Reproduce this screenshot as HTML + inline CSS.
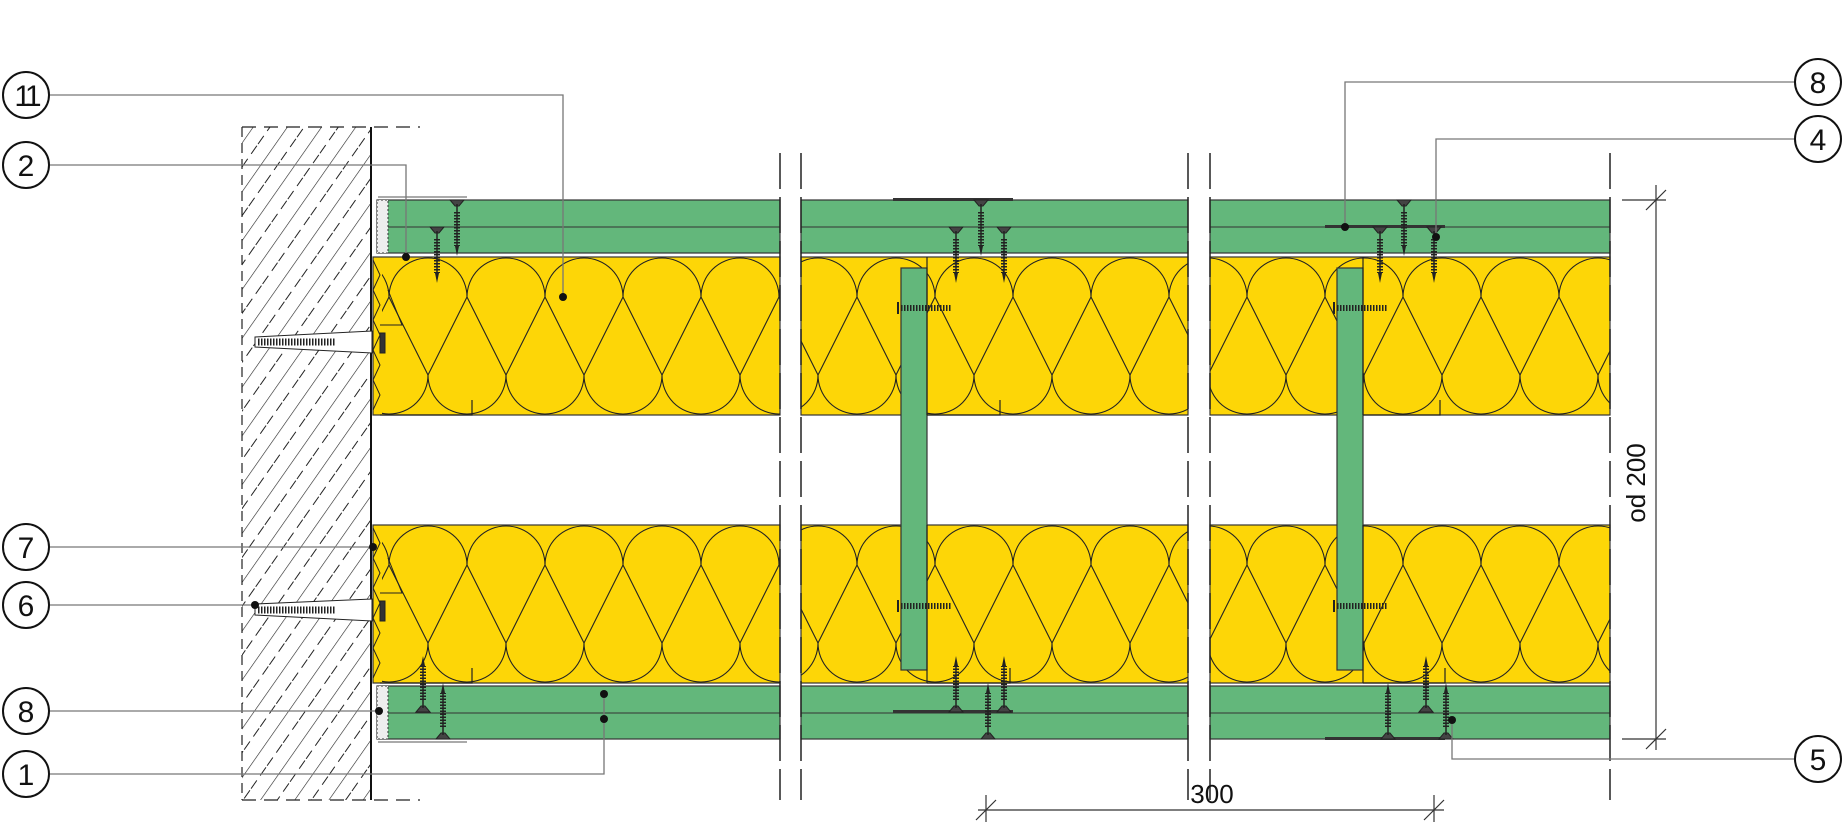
<!DOCTYPE html>
<html><head><meta charset="utf-8"><style>
html,body{margin:0;padding:0;background:#fff;}
svg{display:block;}
text{font-family:"Liberation Sans",sans-serif;}
</style></head><body>
<svg width="1845" height="828" viewBox="0 0 1845 828" xmlns="http://www.w3.org/2000/svg">
<defs>
<pattern id="hatch" patternUnits="userSpaceOnUse" width="28" height="28" patternTransform="rotate(35)">
<line x1="0" y1="0" x2="0" y2="28" stroke="#222" stroke-width="1.2"/>
<line x1="14" y1="0" x2="14" y2="28" stroke="#222" stroke-width="1" stroke-dasharray="10 6"/>
</pattern>
<pattern id="ins1" patternUnits="userSpaceOnUse" x="389" y="257" width="78" height="158">
<g fill="none" stroke="#222" stroke-width="1.1">
<path d="M0,40 A39,39 0 0 1 78,40"/>
<path d="M-39,118 A39,39 0 0 0 39,118"/>
<path d="M39,118 A39,39 0 0 0 117,118"/>
<path d="M0,40 L39,118 M0,40 L-39,118 M78,40 L39,118 M78,40 L117,118"/>
</g></pattern>
<pattern id="ins2" patternUnits="userSpaceOnUse" x="389" y="525" width="78" height="158">
<g fill="none" stroke="#222" stroke-width="1.1">
<path d="M0,40 A39,39 0 0 1 78,40"/>
<path d="M-39,118 A39,39 0 0 0 39,118"/>
<path d="M39,118 A39,39 0 0 0 117,118"/>
<path d="M0,40 L39,118 M0,40 L-39,118 M78,40 L39,118 M78,40 L117,118"/>
</g></pattern>
<g id="screwD">
<path d="M-7,0 L7,0 L2,6 L-2,6 Z" fill="#444" stroke="#222" stroke-width="1"/>
<line x1="0" y1="4" x2="0" y2="48" stroke="#222" stroke-width="1.5"/>
<line x1="0" y1="12" x2="0" y2="46" stroke="#222" stroke-width="6" stroke-dasharray="1.5 1.5"/>
<path d="M-2,46 L0,56 L2,46 Z" fill="#222"/>
</g>
</defs>

<!-- wall -->
<rect x="242" y="127" width="129" height="673" fill="url(#hatch)"/>
<line x1="371" y1="127" x2="371" y2="800" stroke="#111" stroke-width="2"/>
<line x1="242" y1="127" x2="242" y2="800" stroke="#222" stroke-width="1.2" stroke-dasharray="10 6"/>
<line x1="242" y1="127" x2="420" y2="127" stroke="#222" stroke-width="1.2" stroke-dasharray="14 8"/>
<line x1="242" y1="800" x2="420" y2="800" stroke="#222" stroke-width="1.2" stroke-dasharray="14 8"/>

<!-- panels -->
<g stroke="#333" stroke-width="1.2">
<rect x="377" y="200" width="403" height="53" fill="#63b77b"/>
<rect x="801" y="200" width="387" height="53" fill="#63b77b"/>
<rect x="1210" y="200" width="400" height="53" fill="#63b77b"/>
<rect x="377" y="686" width="403" height="53" fill="#63b77b"/>
<rect x="801" y="686" width="387" height="53" fill="#63b77b"/>
<rect x="1210" y="686" width="400" height="53" fill="#63b77b"/>
<rect x="373" y="257" width="407" height="158" fill="#fdd607"/>
<rect x="801" y="257" width="387" height="158" fill="#fdd607"/>
<rect x="1210" y="257" width="400" height="158" fill="#fdd607"/>
<rect x="373" y="525" width="407" height="158" fill="#fdd607"/>
<rect x="801" y="525" width="387" height="158" fill="#fdd607"/>
<rect x="1210" y="525" width="400" height="158" fill="#fdd607"/>
</g>
<g>
<rect x="382" y="257" width="398" height="158" fill="url(#ins1)"/>
<rect x="801" y="257" width="387" height="158" fill="url(#ins1)"/>
<rect x="1210" y="257" width="400" height="158" fill="url(#ins1)"/>
<rect x="382" y="525" width="398" height="158" fill="url(#ins2)"/>
<rect x="801" y="525" width="387" height="158" fill="url(#ins2)"/>
<rect x="1210" y="525" width="400" height="158" fill="url(#ins2)"/>
</g>
<g stroke="#333" stroke-width="1">
<line x1="377" y1="227" x2="780" y2="227"/><line x1="801" y1="227" x2="1188" y2="227"/><line x1="1210" y1="227" x2="1610" y2="227"/>
<line x1="377" y1="713" x2="780" y2="713"/><line x1="801" y1="713" x2="1188" y2="713"/><line x1="1210" y1="713" x2="1610" y2="713"/>
</g>
<rect x="377" y="200" width="11" height="53" fill="#eee" stroke="#333" stroke-width="1" stroke-dasharray="2 2"/>
<rect x="377" y="686" width="11" height="53" fill="#eee" stroke="#333" stroke-width="1" stroke-dasharray="2 2"/>
<path d="M378,197 H467 M378,742 H467" stroke="#555" stroke-width="1"/>
<path d="M373,260 L380,275 L373,290 L380,305 L373,320 L380,335 L373,350 L380,365 L373,380 L380,395 L373,410" fill="none" stroke="#222" stroke-width="1"/>
<path d="M373,528 L380,543 L373,558 L380,573 L373,588 L380,603 L373,618 L380,633 L373,648 L380,663 L373,678" fill="none" stroke="#222" stroke-width="1"/>
<path d="M380,325 H402 L388,290 M380,593 H402 L388,558" fill="none" stroke="#222" stroke-width="1"/>
<!-- anchors -->
<g stroke="#222" stroke-width="1" fill="#fff">
<path d="M255,337 L372,331 L372,353 L255,347 Z"/>
<path d="M258,342 H335" stroke-width="7" stroke-dasharray="1.5 1.5"/>
<rect x="380" y="333" width="5" height="20" fill="#333"/>
<path d="M255,604 L372,599 L372,621 L255,615 Z"/>
<path d="M258,610 H335" stroke-width="7" stroke-dasharray="1.5 1.5"/>
<rect x="380" y="601" width="5" height="20" fill="#333"/>
</g>
<!-- studs -->
<rect x="901" y="268" width="26" height="402" fill="#63b77b" stroke="#333" stroke-width="1.2"/>
<rect x="1337" y="268" width="26" height="402" fill="#63b77b" stroke="#333" stroke-width="1.2"/>
<g stroke="#222" stroke-width="1.2" fill="none">
<path d="M927,257 V415 M927,525 V683 M1363,257 V415 M1363,525 V683"/>
<path d="M927,415 H1000 V400 M1363,415 H1440 V400 M927,683 H1010 V668 M1363,683 H1445 V668 M380,415 H472 V400 M380,683 H472 V668"/>
</g>
<g stroke="#222" fill="none">
<path d="M901,308 H952 M901,606 H952 M1337,308 H1387 M1337,606 H1387" stroke-width="6" stroke-dasharray="1.5 1.5"/>
<path d="M898,302 V314 M898,600 V612 M1334,302 V314 M1334,600 V612" stroke-width="2"/>
</g>
<g fill="#333">
<rect x="893" y="198" width="120" height="3"/>
<rect x="1325" y="225" width="120" height="3"/>
<rect x="893" y="710" width="120" height="3"/>
<rect x="1325" y="737" width="120" height="3"/>
</g>
<use href="#screwD" x="457" y="200"/>
<use href="#screwD" x="437" y="227"/>
<use href="#screwD" x="981" y="200"/>
<use href="#screwD" x="956" y="227"/>
<use href="#screwD" x="1004" y="227"/>
<use href="#screwD" x="1404" y="200"/>
<use href="#screwD" x="1380" y="227"/>
<use href="#screwD" x="1434" y="227"/>
<g transform="translate(0,1425) scale(1,-1)">
<use href="#screwD" x="443" y="686"/>
<use href="#screwD" x="423" y="713"/>
<use href="#screwD" x="988" y="686"/>
<use href="#screwD" x="956" y="713"/>
<use href="#screwD" x="1004" y="713"/>
<use href="#screwD" x="1388" y="686"/>
<use href="#screwD" x="1426" y="713"/>
<use href="#screwD" x="1446" y="686"/>
</g>
<!-- break gaps -->
<rect x="781" y="150" width="19" height="660" fill="#fff"/>
<rect x="1189" y="150" width="20" height="660" fill="#fff"/>
<rect x="1611" y="150" width="10" height="660" fill="#fff"/>
<g stroke="#222" stroke-width="1.5" stroke-dasharray="36 8">
<line x1="780" y1="153" x2="780" y2="800"/><line x1="801" y1="153" x2="801" y2="800"/>
<line x1="1188" y1="153" x2="1188" y2="800"/><line x1="1210" y1="153" x2="1210" y2="800"/>
<line x1="1610" y1="153" x2="1610" y2="800"/>
</g>
<!-- leaders -->
<g stroke="#777" stroke-width="1.3" fill="none">
<path d="M49,95 H563 V297"/>
<path d="M49,165 H406 V257"/>
<path d="M49,547 H373"/>
<path d="M49,605 H255"/>
<path d="M49,711 H379"/>
<path d="M49,774 H604 V694"/>
<path d="M1795,82 H1345 V227"/>
<path d="M1795,139 H1436 V237"/>
<path d="M1795,759 H1452 V720"/>
</g>
<g fill="#111">
<circle cx="563" cy="297" r="4"/><circle cx="406" cy="257" r="4"/><circle cx="373" cy="547" r="4"/>
<circle cx="255" cy="605" r="4"/><circle cx="379" cy="711" r="4"/><circle cx="604" cy="694" r="4"/><circle cx="604" cy="719" r="4"/>
<circle cx="1345" cy="227" r="4"/><circle cx="1436" cy="237" r="4"/><circle cx="1452" cy="720" r="4"/>
</g>
<g fill="#fff" stroke="#111" stroke-width="2">
<circle cx="26" cy="95" r="23"/><circle cx="26" cy="165" r="23"/><circle cx="26" cy="547" r="23"/>
<circle cx="26" cy="605" r="23"/><circle cx="26" cy="711" r="23"/><circle cx="26" cy="774" r="23"/>
<circle cx="1818" cy="82" r="23"/><circle cx="1818" cy="139" r="23"/><circle cx="1818" cy="759" r="23"/>
</g>
<g font-size="30" text-anchor="middle" fill="#111">
<text x="26" y="106" letter-spacing="-4">11</text><text x="26" y="176">2</text><text x="26" y="558">7</text>
<text x="26" y="616">6</text><text x="26" y="722">8</text><text x="26" y="785">1</text>
<text x="1818" y="93">8</text><text x="1818" y="150">4</text><text x="1818" y="770">5</text>
</g>
<g stroke="#333" stroke-width="1.2">
<line x1="1656" y1="185" x2="1656" y2="750"/>
<line x1="1622" y1="200" x2="1666" y2="200"/><line x1="1646" y1="210" x2="1666" y2="190"/>
<line x1="1622" y1="739" x2="1666" y2="739"/><line x1="1646" y1="749" x2="1666" y2="729"/>
<line x1="978" y1="810" x2="1444" y2="810"/>
<line x1="986" y1="795" x2="986" y2="822"/><line x1="976" y1="820" x2="996" y2="800"/>
<line x1="1434" y1="795" x2="1434" y2="822"/><line x1="1424" y1="820" x2="1444" y2="800"/>
</g>
<text x="1645" y="483" font-size="26" fill="#111" text-anchor="middle" transform="rotate(-90 1645 483)">od 200</text>
<text x="1212" y="803" font-size="26" fill="#111" text-anchor="middle">300</text>
</svg>
</body></html>
